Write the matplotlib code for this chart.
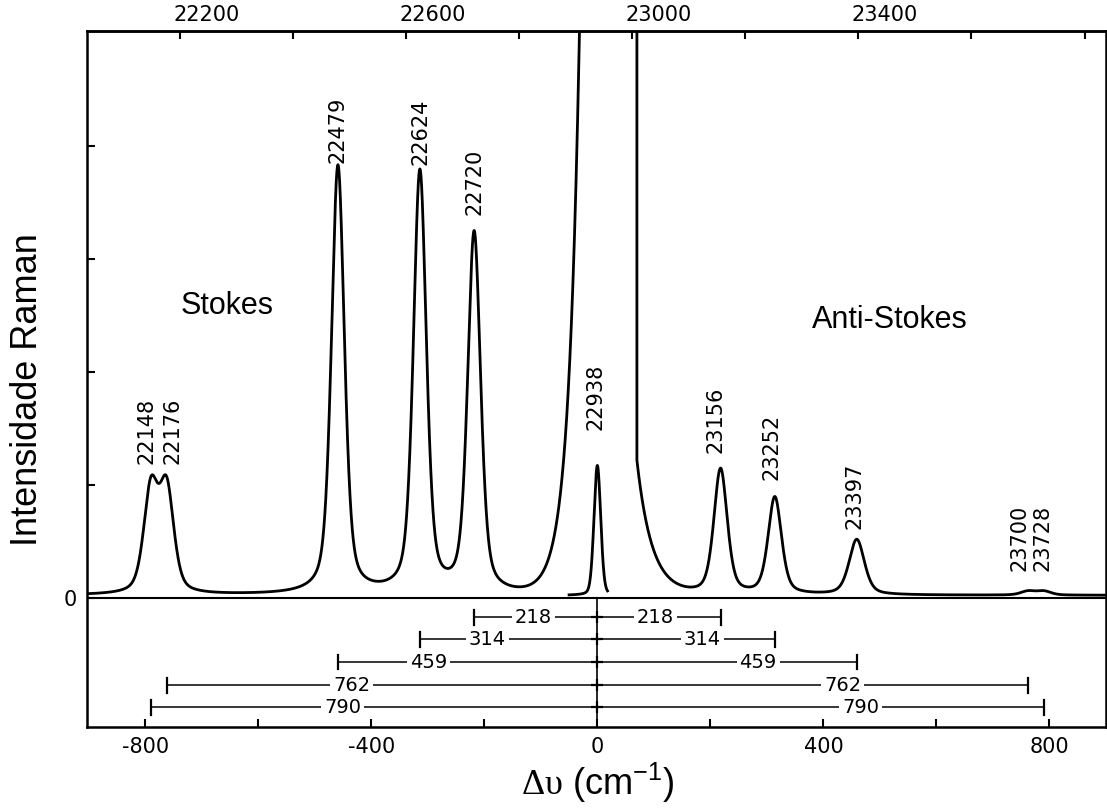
import numpy as np
import matplotlib.pyplot as plt
from matplotlib.ticker import FixedLocator
from matplotlib.transforms import ScaledTranslation

plt.rcParams['mathtext.fontset'] = 'custom'
plt.rcParams['mathtext.rm'] = 'Liberation Serif'
plt.rcParams['mathtext.sf'] = 'Liberation Sans'

# exciting line (cm-1)
nu0 = 22938

# Raman lines, absolute wavenumber (cm-1), peak height (tick units), FWHM (cm-1)
stokes_nu = [22148, 22176, 22479, 22624, 22720]
stokes_h = [0.91, 0.91, 3.79, 3.73, 3.19]
stokes_fwhm = [30, 30, 27, 27, 27]

antistokes_nu = [23156, 23252, 23397, 23700, 23728]
antistokes_h = [1.11, 0.86, 0.49, 0.035, 0.035]
antistokes_fwhm = [28, 28, 32, 30, 30]

# Rayleigh line recorded at low gain
rayleigh_h = 1.15
rayleigh_fwhm = 14

# Rayleigh line at full gain: off scale, only its exponential wings show
wing_left = (-54, 1.58, 19.5)    # shift, height, decay length
wing_right = (88, 0.60, 26.5)
wing_edge = 70

baseline = 0.025

# Raman shifts marked under the spectrum
shifts = [218, 314, 459, 762, 790]

top_major = [22200, 22600, 23000, 23400]
top_minor = [22400, 22800, 23200, 23600, 23800]
bottom_major = [-800, -400, 0, 400, 800]
bottom_minor = [-600, -200, 200, 600]


def pvoigt(x, x0, h, fwhm, eta=0.45):
    r = (x - x0) / (fwhm / 2)
    return h * (eta / (1 + r ** 2) + (1 - eta) * np.exp(-np.log(2) * r ** 2))


x = np.arange(-903, 900.25, 0.25)
y = np.full_like(x, baseline)
for nu, h, w in zip(stokes_nu + antistokes_nu, stokes_h + antistokes_h,
                    stokes_fwhm + antistokes_fwhm):
    y += pvoigt(x, nu - nu0, h, w)
left = wing_left[1] * np.exp((x - wing_left[0]) / wing_left[2])
right = wing_right[1] * np.exp(-(x - wing_right[0]) / wing_right[2])
y += np.where(x < wing_edge, left, right)

x0 = np.arange(-50, 18.25, 0.25)
y0 = baseline + pvoigt(x0, 0, rayleigh_h, rayleigh_fwhm, eta=0.2)

fig = plt.figure(figsize=(11.07, 8.08), dpi=100)
ax = fig.add_axes([87 / 1107, 1 - 727 / 808, 1019 / 1107, 696 / 808])
ax.set_xlim(-903, 900)
ax.set_ylim(-1.14, 5.02)

ax.plot(x, y, color='k', lw=2.0)
ax.plot(x0, y0, color='k', lw=2.0)
ax.axhline(0, color='k', lw=1.5)

# peak labels (wavenumbers), nudges in px
peak_labels = stokes_nu + [nu0] + antistokes_nu
label_gap = [13, 13, 2, 4, 15, 35, 15, 16, 10, 20, 20]
label_dx = [-4, 6, 0, 1, 0, -2, -5, -3, -2, -9, -1]
for nu, gap, dx in zip(peak_labels, label_gap, label_dx):
    d = nu - nu0
    if nu == nu0:
        top = np.interp(d, x0, y0)
    else:
        top = np.interp(d, x, y)
    ax.annotate(str(nu), (d, top), xytext=(dx * 0.72, gap * 0.72),
                textcoords='offset points', rotation=90, ha='center',
                va='bottom', fontsize=15, family='DejaVu Sans')

# shift brackets below the zero line
levels = [-0.17, -0.365, -0.565, -0.77, -0.965]
frac_left = [0.52, 0.62, 0.65, 0.57, 0.57]
frac_right = [0.47, 0.59, 0.62, 0.57, 0.59]
ax.plot([0, 0], [0, -1.2], color='k', lw=1.2)
for v, lv, fl, fr in zip(shifts, levels, frac_left, frac_right):
    ax.plot([-v, v], [lv, lv], color='k', lw=1.1)
    for e in (-v, v):
        ax.plot([e, e], [lv - 0.065, lv + 0.065], color='k', lw=1.6)
    ax.plot(0, lv, marker='+', ms=9, mew=1.6, color='k')
    for xl in (-v * fl, v * fr):
        ax.text(xl, lv, str(v), ha='center', va='center', fontsize=14,
                family='DejaVu Sans',
                bbox=dict(boxstyle='square,pad=0.15', fc='white', ec='none'))

ax.text(-655, 2.59, 'Stokes', fontsize=22, ha='center', va='center',
        family='Liberation Sans')
ax.text(517, 2.46, 'Anti-Stokes', fontsize=22, ha='center', va='center',
        family='Liberation Sans')

# axes
for s in ax.spines.values():
    s.set_linewidth(1.8)
ax.set_xticks(bottom_major, labels=[str(t) for t in bottom_major])
ax.xaxis.set_minor_locator(FixedLocator(bottom_minor))
ax.set_yticks([0, 1, 2, 3, 4], labels=['0', '', '', '', ''])
ax.tick_params(which='both', direction='in', length=6, width=1.5,
               labelsize=15, pad=7)
for lbl in ax.get_xticklabels() + ax.get_yticklabels():
    lbl.set_family('DejaVu Sans')

sec = ax.secondary_xaxis('top', functions=(lambda d: d + nu0,
                                           lambda w: w - nu0))
sec.set_xticks(top_major, labels=[str(t) for t in top_major])
sec.xaxis.set_minor_locator(FixedLocator(top_minor))
sec.tick_params(which='both', direction='in', length=6, width=1.5,
                labelsize=15, pad=4)
sec.spines['top'].set_linewidth(1.8)
shift = ScaledTranslation(-7 / 100, 0, fig.dpi_scale_trans)
for lbl in sec.get_xticklabels():
    lbl.set_family('DejaVu Sans')
    lbl.set_horizontalalignment('left')
    lbl.set_transform(lbl.get_transform() + shift)

fig.text(28 / 1107, 1 - 390 / 808, 'Intensidade Raman', rotation=90,
         ha='center', va='center', fontsize=26, family='Liberation Sans')
fig.text(598 / 1107, 1 - 783 / 808, r'$\mathrm{\Delta\upsilon}$ (cm$^{\mathsf{-1}}$)',
         ha='center', va='center', fontsize=26, family='Liberation Sans')

fig.savefig('out.png', dpi=100)
